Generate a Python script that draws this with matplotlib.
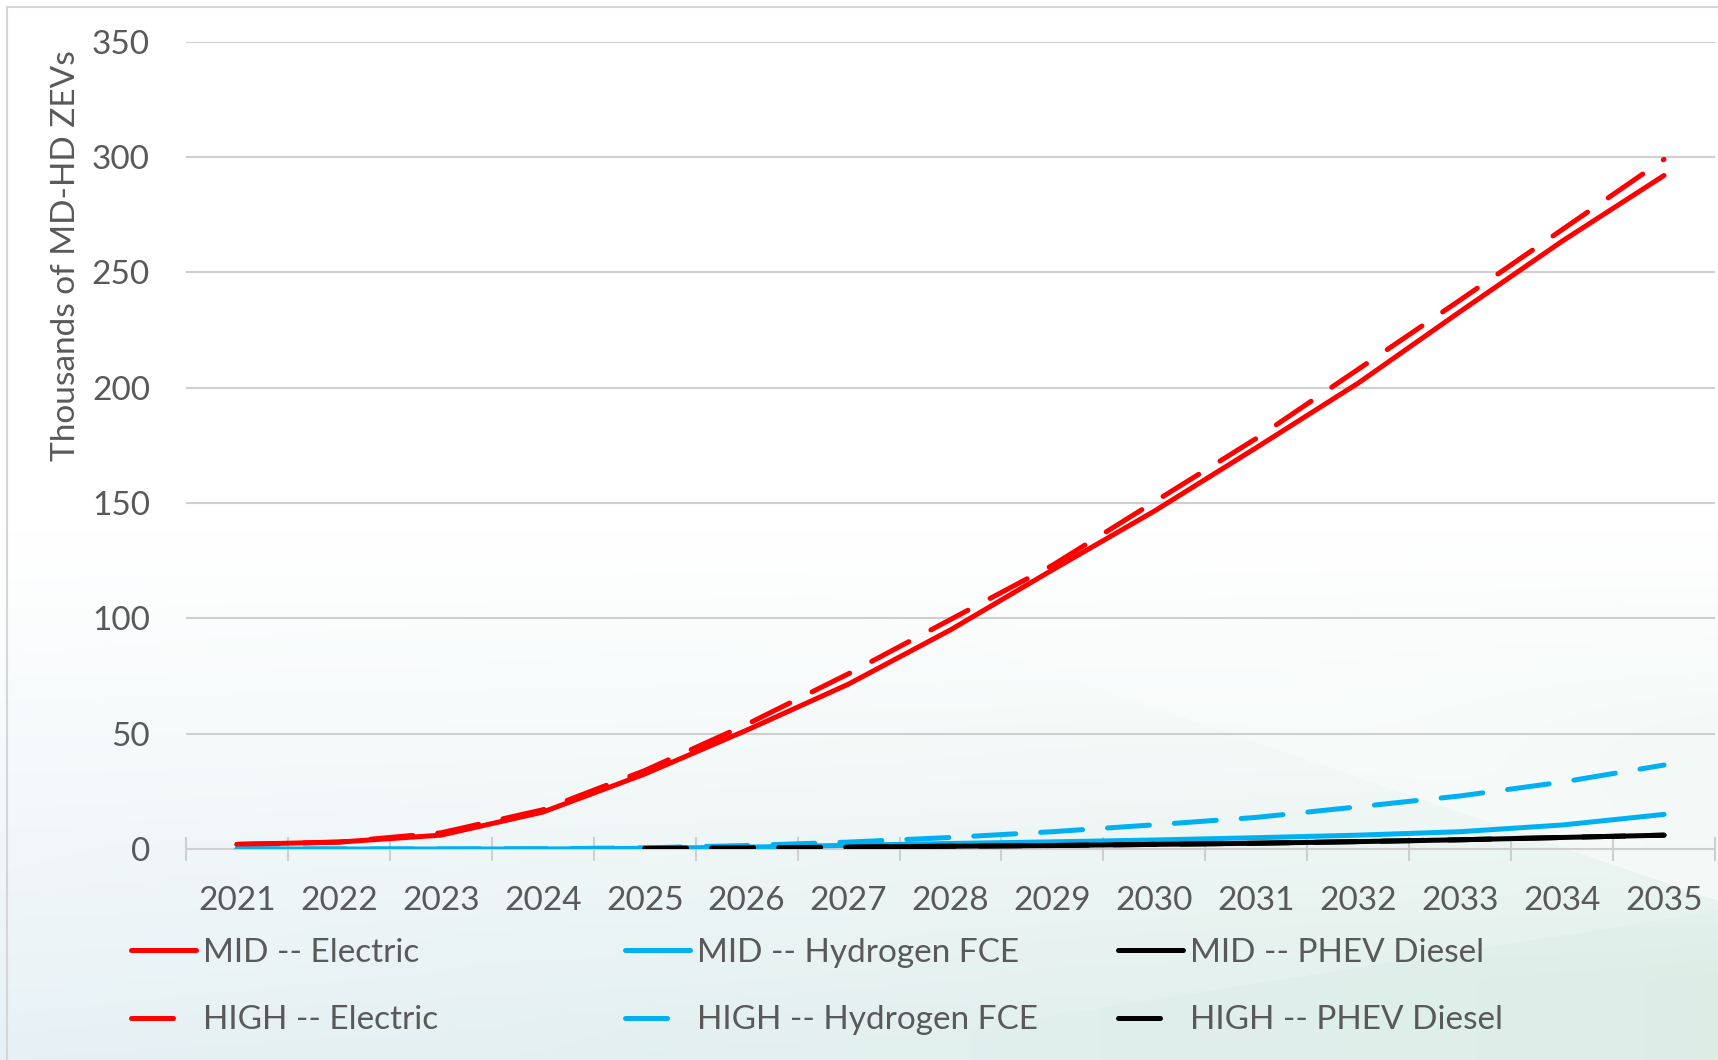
import numpy as np
import matplotlib
matplotlib.use("Agg")
import matplotlib.pyplot as plt
from matplotlib.patches import Rectangle

plt.rcParams['font.family'] = ['Lato', 'DejaVu Sans']

# ---------------- data ----------------
years = [2021, 2022, 2023, 2024, 2025, 2026, 2027, 2028, 2029, 2030, 2031, 2032, 2033, 2034, 2035]
nan = np.nan
mid_electric = [2, 3, 6, 16, 32.5, 51.5, 71.5, 95, 121, 146.5, 174, 202, 233, 263.5, 292]
mid_hydrogen = [0, 0, 0, 0, 0.3, 0.8, 1.6, 2.4, 3.1, 3.9, 4.9, 6, 7.5, 10.4, 15]
mid_phev = [nan, nan, nan, nan, nan, nan, 0.8, 1.2, 1.5, 2, 2.5, 3.2, 4, 5, 6]
high_electric = [2, 3, 7, 17, 34, 54, 76, 99.5, 123, 150.5, 178, 208, 238, 268.5, 299]
high_hydrogen = [0, 0, 0, 0.1, 0.5, 1.5, 3, 5, 7.5, 10.5, 13.7, 18.3, 23, 29, 36.4]
high_phev = [nan, nan, nan, nan, 0.3, 0.5, 0.8, 1.2, 1.5, 2, 2.5, 3.2, 4, 5, 6]
y_ticks = [0, 50, 100, 150, 200, 250, 300, 350]
series_labels = ["MID -- Electric", "MID -- Hydrogen FCE", "MID -- PHEV Diesel",
                 "HIGH -- Electric", "HIGH -- Hydrogen FCE", "HIGH -- PHEV Diesel"]
y_title = "Thousands of MD-HD ZEVs"

RED = "#FF0000"
BLUE = "#00B0F0"
BLACK = "#000000"
TXT = "#595959"
GRID = "#cfcfcf"
FS = 24

W, H = 1718, 1060
fig = plt.figure(figsize=(W / 100, H / 100), dpi=100)

# ---------------- background (soft decorative gradient) ----------------
bg = fig.add_axes([0, 0, 1, 1], zorder=-10)
yy, xx = np.mgrid[0:1:H * 1j, 0:1:W * 1j]
t = np.clip((yy - 0.5) / 0.5, 0, 1) ** 1.1
left_c = np.array([0.905, 0.945, 0.962])
right_c = np.array([0.865, 0.932, 0.905])
tint = left_c[None, None, :] * (1 - xx[..., None]) + right_c[None, None, :] * xx[..., None]
# soft lighter diagonal wedge toward lower right
wedge_line = 0.60 + (xx - 0.55) * (0.85 - 0.60) / 0.45
d = yy - wedge_line
light = 1 - 0.55 * np.clip(xx - 0.45, 0, 1) / 0.55 * np.exp(-(np.minimum(d, 0) / 0.12) ** 2) * (d < 0.0)
t = t * light
# greener soft bottom band on the right
band_line = 1.0 - (xx - 0.45) * (0.14 / 0.55)
t = np.where((yy > band_line) & (xx > 0.45), np.clip(t * 1.2, 0, 1), t)
img = np.ones((H, W, 3)) * (1 - t[..., None]) + tint * t[..., None]
bg.imshow(img, aspect='auto', extent=[0, 1, 0, 1], origin='upper', interpolation='bilinear')
bg.set_xlim(0, 1)
bg.set_ylim(0, 1)
bg.axis('off')
bg.add_patch(Rectangle((7 / W, -0.1), 1.2, 1 - 7 / H + 0.1, fill=False,
                       edgecolor="#d6d6d6", lw=1.5))

# ---------------- main axes ----------------
left, right = 186 / W, 1715 / W
bottom, top = 1 - 849 / H, 1 - 41.7 / H
ax = fig.add_axes([left, bottom, right - left, top - bottom])
ax.patch.set_alpha(0)

x = np.arange(len(years))
lw = 3.6
dash = (0, (8.4, 5.0))
ax.plot(x, mid_electric, color=RED, lw=lw, solid_capstyle='round', label=series_labels[0], zorder=3)
ax.plot(x, mid_hydrogen, color=BLUE, lw=lw, solid_capstyle='round', label=series_labels[1], zorder=3)
ax.plot(x, mid_phev, color=BLACK, lw=lw, solid_capstyle='round', label=series_labels[2], zorder=3)
ax.plot(x, high_electric, color=RED, lw=lw, ls=dash, dash_capstyle='round', label=series_labels[3], zorder=3)
ax.plot(x, high_hydrogen, color=BLUE, lw=lw, ls=dash, dash_capstyle='round', label=series_labels[4], zorder=3)
ax.plot(x, high_phev, color=BLACK, lw=lw, ls=dash, dash_capstyle='round', label=series_labels[5], zorder=3)

ax.set_xlim(-0.5, len(years) - 0.5)
ax.set_ylim(0, 350)
ax.set_yticks(y_ticks)
ax.set_yticklabels([str(v) for v in y_ticks])
ax.set_xticks(x)
ax.set_xticklabels([str(y) for y in years])
ax.set_xticks(np.arange(len(years) + 1) - 0.5, minor=True)
ax.tick_params(axis='y', length=0, pad=26, labelsize=FS, labelcolor=TXT)
ax.tick_params(axis='x', which='major', length=0, pad=27, labelsize=FS, labelcolor=TXT)
ax.tick_params(axis='x', which='minor', length=17, width=1.5, direction='inout', color=GRID)
for s in ['top', 'right', 'left']:
    ax.spines[s].set_visible(False)
ax.spines['bottom'].set_color(GRID)
ax.spines['bottom'].set_linewidth(1.5)
ax.spines['bottom'].set_zorder(1)
for v in y_ticks[1:]:
    ax.axhline(v, color=GRID, lw=1.5, zorder=1)

fig.text(66 / W, 1 - 256 / H, y_title, rotation=90, ha='center', va='center',
         fontsize=FS, color=TXT)

# ---------------- legend (three columns) ----------------
handles, labels = ax.get_legend_handles_labels()
col_x = [131, 625, 1118]
for i, cx in enumerate(col_x):
    hs = [handles[i], handles[i + 3]]
    ls_ = [labels[i], labels[i + 3]]
    fig.legend(hs, ls_, loc='upper left', bbox_to_anchor=(cx / W, 1 - 938 / H),
               frameon=False, fontsize=FS, labelcolor=TXT, borderpad=0,
               borderaxespad=0, handlelength=1.95, handletextpad=0.2,
               labelspacing=1.12)

fig.savefig("out.png", dpi=100)
